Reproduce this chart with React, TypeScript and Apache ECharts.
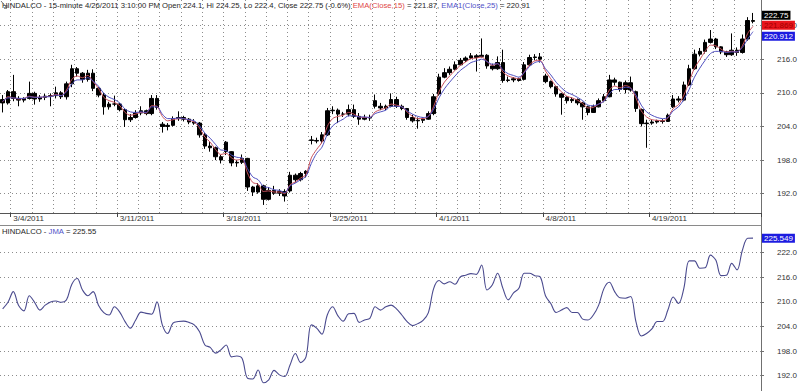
import { useEffect, useRef } from 'react';
import * as echarts from 'echarts';

// ---------- data ----------
const tradingDays = [
  '3/3/2011', '3/4/2011', '3/7/2011', '3/8/2011', '3/9/2011', '3/10/2011', '3/11/2011',
  '3/14/2011', '3/15/2011', '3/16/2011', '3/17/2011', '3/18/2011',
  '3/21/2011', '3/22/2011', '3/23/2011', '3/24/2011', '3/25/2011',
  '3/28/2011', '3/29/2011', '3/30/2011', '3/31/2011', '4/1/2011',
  '4/4/2011', '4/5/2011', '4/6/2011', '4/7/2011', '4/8/2011',
  '4/11/2011', '4/13/2011', '4/15/2011',
  '4/18/2011', '4/19/2011', '4/20/2011', '4/21/2011',
  '4/25/2011', '4/26/2011',
];
const barSlots = ['09:15', '10:50', '12:25', '14:00'];
const firstDaySlotCount = 2;

const opens = [
  208.8, 208.2, 210.2, 209.0, 208.7, 209.0, 209.9, 208.9, 209.2, 209.4,
  209.5, 210.0, 209.3, 211.6, 214.3, 213.5, 212.4, 213.5, 210.8, 209.6,
  207.5, 208.0, 208.0, 207.0, 205.2, 205.6, 206.4, 206.8, 206.3, 209.0,
  204.4, 204.0, 204.2, 205.4, 205.6, 205.3, 204.8, 204.6, 202.5, 200.5,
  200.2, 198.6, 201.2, 199.5, 197.5, 197.6, 198.3, 193.2, 192.3, 193.4,
  191.0, 192.6, 192.1, 192.4, 192.5, 195.3, 194.5, 195.6, 201.6, 201.5,
  201.4, 202.5, 206.8, 206.9, 206.2, 206.2, 207.0, 205.8, 205.3, 205.6,
  208.6, 207.6, 207.3, 207.6, 208.8, 207.6, 207.2, 205.6, 205.0, 205.1,
  205.3, 206.3, 209.8, 212.8, 213.6, 214.2, 215.0, 215.8, 216.2, 216.6,
  216.5, 216.7, 214.8, 214.3, 215.4, 212.2, 212.3, 212.5, 212.4, 215.0,
  216.3, 216.4, 213.0, 212.0, 211.1, 209.8, 209.2, 208.6, 208.8, 208.2,
  207.5, 206.5, 207.5, 208.6, 209.3, 212.3, 211.9, 210.6, 211.8, 210.2,
  207.0, 204.5, 204.6, 204.8, 205.0, 204.9, 207.5, 208.9, 208.7, 211.4,
  214.3, 216.9, 217.4, 219.0, 219.6, 218.2, 217.3, 216.8, 217.6, 217.2,
  219.6, 222.9,
];
const highs = [
  209.6, 210.5, 213.2, 209.4, 209.2, 212.0, 210.2, 209.6, 209.8, 209.9,
  211.1, 210.3, 212.0, 215.0, 214.6, 213.7, 214.1, 214.2, 211.0, 210.0,
  208.4, 209.5, 208.2, 207.2, 206.2, 206.9, 207.6, 207.0, 209.6, 209.6,
  204.8, 204.6, 205.8, 206.7, 205.9, 205.5, 205.3, 204.8, 202.8, 201.2,
  200.4, 198.9, 201.4, 199.6, 198.0, 199.0, 198.4, 193.4, 193.9, 193.6,
  193.2, 193.4, 192.8, 192.8, 195.9, 195.6, 195.9, 196.2, 202.3, 202.0,
  203.0, 207.3, 207.6, 207.2, 206.6, 207.9, 207.9, 206.4, 206.1, 206.1,
  209.7, 208.2, 207.9, 209.9, 209.3, 207.9, 207.3, 206.1, 205.6, 205.6,
  206.7, 209.8, 213.4, 214.4, 214.7, 215.6, 216.2, 216.5, 217.1, 216.9,
  219.7, 216.9, 215.2, 216.5, 217.7, 212.9, 212.8, 212.7, 215.5, 216.8,
  216.9, 217.1, 213.4, 212.2, 211.2, 210.0, 209.4, 209.2, 209.0, 208.4,
  207.7, 207.9, 209.0, 209.8, 213.2, 212.7, 212.0, 212.2, 212.9, 210.4,
  207.2, 205.2, 205.2, 205.2, 205.3, 206.3, 209.6, 209.4, 212.0, 215.0,
  217.7, 218.0, 219.5, 221.2, 219.8, 218.3, 217.5, 220.6, 218.1, 220.4,
  223.5, 224.25,
];
const lows = [
  206.5, 207.9, 208.5, 207.6, 208.3, 208.8, 207.9, 208.4, 208.7, 207.6,
  209.0, 208.9, 208.8, 211.0, 212.9, 211.8, 212.0, 210.3, 209.2, 206.1,
  207.0, 207.6, 206.7, 203.9, 204.8, 205.4, 206.0, 206.0, 206.0, 207.0,
  202.9, 203.3, 204.0, 205.0, 204.9, 204.4, 204.3, 202.0, 200.0, 199.5,
  198.0, 197.4, 198.9, 196.9, 196.8, 197.3, 192.5, 191.6, 192.0, 190.0,
  190.8, 191.8, 191.6, 190.6, 192.2, 194.0, 194.2, 194.9, 200.8, 201.0,
  201.0, 202.3, 206.2, 204.6, 205.7, 205.8, 205.5, 204.3, 205.1, 205.0,
  207.2, 206.9, 206.9, 207.4, 207.3, 206.9, 205.2, 204.7, 203.6, 204.6,
  205.2, 206.0, 209.5, 212.6, 213.2, 214.0, 214.9, 215.5, 216.0, 213.8,
  216.3, 214.3, 214.0, 214.1, 211.8, 211.9, 211.9, 212.0, 212.2, 214.8,
  215.8, 215.4, 211.7, 210.8, 209.3, 206.1, 208.1, 208.2, 207.8, 205.2,
  206.0, 206.4, 207.4, 208.3, 209.2, 211.3, 210.2, 209.9, 210.2, 206.6,
  204.0, 200.2, 204.3, 204.5, 204.5, 204.8, 207.3, 208.3, 208.5, 211.2,
  214.1, 216.5, 217.0, 218.8, 217.8, 216.9, 216.4, 216.6, 216.6, 217.0,
  219.3, 222.4,
];
const closes = [
  208.2, 210.2, 209.0, 208.7, 209.0, 209.9, 208.9, 209.2, 209.4, 209.5,
  210.0, 209.3, 211.6, 214.3, 213.5, 212.4, 213.5, 210.8, 209.6, 207.5,
  208.0, 208.0, 207.0, 205.2, 205.6, 206.4, 206.8, 206.3, 209.0, 207.4,
  204.0, 204.2, 205.4, 205.6, 205.3, 204.8, 204.6, 202.5, 200.5, 200.2,
  198.6, 198.0, 199.5, 197.5, 197.6, 198.3, 193.2, 192.3, 193.4, 191.0,
  192.6, 192.1, 192.4, 191.6, 195.3, 194.5, 195.6, 196.0, 201.5, 201.4,
  202.5, 206.8, 206.9, 206.2, 206.2, 207.0, 205.8, 205.3, 205.6, 205.5,
  207.6, 207.3, 207.6, 208.8, 207.6, 207.2, 205.6, 205.0, 205.1, 205.3,
  206.3, 209.3, 212.8, 213.6, 214.2, 215.0, 215.8, 216.2, 216.6, 216.3,
  216.7, 214.8, 214.3, 215.4, 212.2, 212.3, 212.5, 212.2, 215.0, 216.3,
  216.4, 216.0, 212.0, 211.1, 209.8, 209.2, 208.6, 208.8, 208.2, 207.5,
  206.5, 207.5, 208.6, 209.3, 212.3, 211.9, 210.6, 211.8, 210.5, 207.2,
  204.5, 204.6, 204.8, 205.0, 204.9, 206.0, 208.9, 208.7, 211.4, 214.3,
  216.9, 217.4, 219.0, 219.6, 218.2, 217.3, 216.8, 217.6, 217.2, 219.6,
  222.9, 222.75,
];
const ema15 = [
  208.4, 209.3, 209.1, 208.9, 209.0, 209.4, 209.2, 209.2, 209.3, 209.4,
  209.7, 209.5, 210.5, 212.4, 213.0, 212.7, 213.1, 212.0, 210.8, 209.2,
  208.6, 208.3, 207.7, 206.5, 206.0, 206.2, 206.5, 206.4, 207.7, 207.6,
  205.8, 205.0, 205.2, 205.4, 205.4, 205.1, 204.8, 203.7, 202.1, 201.2,
  199.9, 199.0, 199.2, 198.4, 198.0, 198.2, 195.7, 194.0, 193.7, 192.4,
  192.5, 192.3, 192.3, 192.0, 193.6, 194.1, 194.8, 195.4, 198.4, 199.9,
  201.2, 204.0, 205.4, 205.8, 206.0, 206.5, 206.2, 205.7, 205.6, 205.6,
  206.6, 207.0, 207.3, 208.0, 207.8, 207.5, 206.6, 205.8, 205.4, 205.4,
  205.8, 207.6, 210.2, 211.9, 213.0, 214.0, 214.9, 215.5, 216.1, 216.2,
  216.4, 215.6, 214.9, 215.2, 213.7, 213.0, 212.7, 212.5, 213.7, 215.0,
  215.7, 215.8, 213.9, 212.5, 211.1, 210.2, 209.4, 209.1, 208.7, 208.1,
  207.3, 207.4, 208.0, 208.6, 210.5, 211.2, 210.9, 211.3, 210.9, 209.1,
  206.8, 205.7, 205.2, 205.1, 205.0, 205.5, 207.2, 207.9, 209.6, 212.0,
  214.4, 215.9, 217.4, 218.5, 218.4, 217.8, 217.3, 217.4, 217.3, 218.4,
  220.6, 221.869,
];
const ema25 = [
  208.5, 209.1, 209.1, 209.0, 209.0, 209.3, 209.2, 209.2, 209.3, 209.3,
  209.6, 209.5, 210.2, 211.6, 212.3, 212.3, 212.7, 212.1, 211.2, 209.9,
  209.2, 208.8, 208.2, 207.1, 206.6, 206.5, 206.6, 206.5, 207.5, 207.5,
  206.2, 205.4, 205.4, 205.5, 205.4, 205.2, 205.0, 204.1, 202.8, 201.9,
  200.8, 199.8, 199.7, 198.9, 198.5, 198.4, 196.5, 195.0, 194.5, 193.3,
  193.1, 192.7, 192.6, 192.2, 193.4, 193.9, 194.5, 195.1, 197.4, 199.2,
  200.3, 202.6, 204.1, 204.8, 205.3, 205.9, 205.9, 205.7, 205.7, 205.6,
  206.3, 206.6, 206.9, 207.6, 207.6, 207.5, 206.8, 206.2, 205.8, 205.6,
  205.8, 207.1, 209.1, 210.7, 211.9, 213.0, 214.0, 214.7, 215.4, 215.7,
  216.0, 215.6, 215.1, 215.2, 214.1, 213.4, 213.1, 212.8, 213.6, 214.7,
  215.4, 215.6, 214.3, 213.2, 211.9, 210.9, 210.1, 209.7, 209.2, 208.6,
  207.8, 207.7, 208.0, 208.5, 209.8, 210.6, 210.6, 211.0, 210.8, 209.6,
  207.8, 206.6, 206.0, 205.6, 205.4, 205.6, 206.8, 207.5, 208.8, 210.6,
  212.8, 214.4, 215.8, 217.0, 217.4, 217.4, 217.2, 217.3, 217.3, 218.1,
  219.6, 220.912,
];
const jma = [
  208.3, 209.9, 212.5, 209.1, 207.8, 211.5, 209.9, 208.0, 209.2, 210.0,
  210.2, 209.9, 210.5, 214.3, 215.7, 212.9, 211.5, 212.5, 209.2, 207.4,
  206.8, 208.8, 207.5, 205.2, 203.6, 205.6, 207.5, 207.2, 207.0, 210.0,
  204.4, 202.3, 204.8, 205.2, 205.3, 205.0, 204.4, 202.7, 199.5, 198.9,
  197.5, 198.3, 199.5, 196.6, 196.8, 196.2, 191.4, 191.2, 193.4, 190.3,
  191.0, 193.3, 192.2, 191.8, 194.6, 197.4, 195.2, 196.6, 204.4, 203.6,
  202.1, 206.8, 208.8, 206.6, 205.3, 207.1, 207.2, 205.0, 205.6, 206.0,
  208.8, 208.0, 208.8, 209.2, 208.3, 206.8, 205.2, 204.2, 204.7, 205.5,
  207.4, 213.3, 215.2, 214.4, 214.9, 214.3, 216.1, 216.5, 216.9, 216.7,
  219.0, 212.9, 214.1, 217.0, 213.3, 210.5, 212.2, 213.3, 217.0, 217.0,
  216.4, 216.1, 211.5, 209.6, 207.4, 208.0, 208.6, 207.4, 207.4, 205.8,
  205.6, 206.8, 209.2, 213.3, 214.8, 212.5, 211.0, 210.9, 211.3, 205.2,
  201.7, 202.3, 203.4, 205.2, 205.2, 208.0, 211.2, 209.6, 213.3, 220.0,
  220.0, 218.2, 218.3, 221.4, 220.2, 216.4, 216.5, 219.4, 217.8, 222.6,
  225.5, 225.549,
];
const lastBarOHLC = [224.1, 224.25, 222.4, 222.75];
const lastChangePct = [-0.6];
const priceTicks = [192, 198, 204, 210, 216, 222];
const jmaTicks = [192, 198, 204, 210, 216, 222];
const priceRange = [188.56, 226.56];
const jmaRange = [188.27, 228.75];
const daysPerWeekLabel = 5;

// ---------- layout / style ----------
const W = 800;
const H = 391;
const PLOT_RIGHT = 761;
const TOP_GRID = { top: 0, height: 213 };
const BOT_GRID = { top: 225, height: 166 };
const FONT = 'Liberation Sans, Arial, sans-serif';
const DOTTED = { type: [1, 3] as number[], color: '#8c8c8c', width: 1 };
const AXIS_GRAY = '#707070';
const HEAD_SIZE = 7.7;

// categories: one entry per bar, plus one blank slot at the right edge
const categories: string[] = [];
const dayStart: boolean[] = [];
const weekStart: boolean[] = [];
tradingDays.forEach((d, di) => {
  const slots = di === 0 ? barSlots.slice(barSlots.length - firstDaySlotCount) : barSlots;
  slots.forEach((s, si) => {
    categories.push(d + ' ' + s);
    const isStart = di > 0 && si === 0;
    dayStart.push(isStart);
    weekStart.push(isStart && (di - 1) % daysPerWeekLabel === 0);
  });
});
categories.push('');
dayStart.push(false);
weekStart.push(false);

const fmt = (v: number, d: number) => v.toFixed(d);

export default function App() {
  const ref = useRef<HTMLDivElement>(null);

  useEffect(() => {
    if (!ref.current) return;
    const chart = echarts.init(ref.current, null, { renderer: 'svg', width: W, height: H });
    const lastIdx = closes.length - 1;
    const e15 = ema15[lastIdx];
    const e25 = ema25[lastIdx];
    const jLast = jma[jma.length - 1];

    const headerTop =
      '{k|HINDALCO - 15-minute ' + categories[lastIdx].split(' ')[0] + ' 3:10:00 PM Open ' +
      lastBarOHLC[0] + ', Hi ' + lastBarOHLC[1] + ', Lo ' + lastBarOHLC[2] + ', Close ' +
      lastBarOHLC[3] + ' (' + lastChangePct[0] + '%) }{r|EMA(Close,15)}{k| = ' + fmt(e15, 2) +
      ', }{b|EMA1(Close,25)}{k| = ' + fmt(e25, 2) + '}';
    const headerBot = '{k|HINDALCO - }{b|JMA}{k| = ' + fmt(jLast, 2) + '}';

    const tok = (color: string) => ({
      color,
      fontSize: HEAD_SIZE,
      fontWeight: 'normal' as const,
      fontFamily: FONT,
    });
    const richBase = { k: tok('#262626'), r: tok('#e04848'), b: tok('#5050c8') };
    const titleStyle = {
      fontSize: HEAD_SIZE,
      fontWeight: 'normal' as const,
      fontFamily: FONT,
      rich: richBase,
    };

    const yAxisCommon = (ticks: number[]) => ({
      type: 'value' as const,
      position: 'right' as const,
      axisLine: { show: true, lineStyle: { color: AXIS_GRAY, width: 1 } },
      axisTick: { show: true, length: 3, customValues: ticks, lineStyle: { color: AXIS_GRAY } },
      axisLabel: {
        customValues: ticks,
        formatter: (v: number) => v.toFixed(1),
        align: 'right' as const,
        margin: 36,
        fontSize: 8,
        color: '#333',
        fontFamily: FONT,
      },
      splitLine: { show: true, lineStyle: DOTTED },
    });

    chart.setOption({
      animation: false,
      backgroundColor: '#ffffff',
      textStyle: { fontFamily: FONT },
      title: [
        { text: headerTop, left: 2, top: 1, padding: 0, textStyle: titleStyle },
        { text: headerBot, left: 2, top: 227, padding: 0, textStyle: titleStyle },
      ],
      grid: [
        { left: 0, width: PLOT_RIGHT, top: TOP_GRID.top, height: TOP_GRID.height },
        { left: 0, width: PLOT_RIGHT, top: BOT_GRID.top, height: BOT_GRID.height },
      ],
      xAxis: [
        {
          type: 'category',
          gridIndex: 0,
          data: categories,
          boundaryGap: true,
          position: 'bottom',
          axisLine: { show: true, lineStyle: { color: '#555', width: 1 } },
          axisTick: {
            show: true,
            length: 4,
            interval: (i: number) => weekStart[i],
            lineStyle: { color: '#444' },
          },
          axisLabel: {
            show: true,
            interval: (i: number) => weekStart[i],
            formatter: (v: string) => v.split(' ')[0],
            align: 'left',
            margin: 1,
            fontSize: 8,
            color: '#333',
            fontFamily: FONT,
          },
          splitLine: { show: true, interval: (i: number) => dayStart[i], lineStyle: DOTTED },
        },
        {
          type: 'category',
          gridIndex: 1,
          data: categories,
          boundaryGap: true,
          position: 'top',
          axisLine: { show: true, lineStyle: { color: '#8a8a8a', width: 1 } },
          axisTick: { show: false },
          axisLabel: { show: false },
          splitLine: { show: false },
        },
      ],
      yAxis: [
        { gridIndex: 0, min: priceRange[0], max: priceRange[1], ...yAxisCommon(priceTicks) },
        { gridIndex: 1, min: jmaRange[0], max: jmaRange[1], ...yAxisCommon(jmaTicks) },
      ],
      series: [
        {
          name: 'HINDALCO',
          type: 'candlestick',
          xAxisIndex: 0,
          yAxisIndex: 0,
          data: opens.map((o, i) => [o, closes[i], lows[i], highs[i]]),
          barWidth: 4,
          itemStyle: {
            color: '#000',
            color0: '#000',
            borderColor: '#000',
            borderColor0: '#000',
            borderWidth: 1,
          },
        },
        {
          name: 'EMA(Close,15)',
          type: 'line',
          xAxisIndex: 0,
          yAxisIndex: 0,
          data: ema15,
          showSymbol: false,
          smooth: 0.3,
          lineStyle: { color: '#c8505c', width: 1 },
          z: 3,
        },
        {
          name: 'EMA1(Close,25)',
          type: 'line',
          xAxisIndex: 0,
          yAxisIndex: 0,
          data: ema25,
          showSymbol: false,
          smooth: 0.3,
          lineStyle: { color: '#5050c0', width: 1 },
          z: 3,
        },
        {
          name: 'JMA',
          type: 'line',
          xAxisIndex: 1,
          yAxisIndex: 1,
          data: jma,
          showSymbol: false,
          smooth: 0.35,
          lineStyle: { color: '#4a4a8e', width: 1.1 },
        },
      ],
    });

    // value tags on the right axis, positioned through the axis scales
    const yTop = (v: number) => chart.convertToPixel({ yAxisIndex: 0 }, v) as number;
    const yBot = (v: number) => chart.convertToPixel({ yAxisIndex: 1 }, v) as number;
    const redY = yTop(e15) - 1;
    const tag = (text: string, cy: number, bg: string, fg: string) => ({
      type: 'text',
      x: PLOT_RIGHT + 1,
      y: cy,
      z: 50,
      style: {
        text,
        fill: fg,
        backgroundColor: bg,
        padding: [1, 2, 0, 2],
        font: '8px ' + FONT,
        verticalAlign: 'middle',
        align: 'left',
      },
    });
    chart.setOption({
      graphic: [
        {
          type: 'line',
          shape: {
            x1: PLOT_RIGHT + 0.5,
            y1: TOP_GRID.top + TOP_GRID.height,
            x2: PLOT_RIGHT + 0.5,
            y2: BOT_GRID.top,
          },
          style: { stroke: AXIS_GRAY, lineWidth: 1 },
        },
        {
          type: 'polyline',
          shape: { points: [[1, 1], [7, 8], [4, 8], [7, 8], [7, 5]] },
          style: { stroke: '#555', lineWidth: 0.8, fill: 'none' },
          z: 40,
        },
        tag(fmt(closes[lastIdx], 2), redY - 10, '#000', '#fff'),
        tag(fmt(e15, 3), redY, '#e8141c', '#a00000'),
        tag(fmt(e25, 3), redY + 11, '#1c1ce0', '#fff'),
        tag(fmt(jLast, 3), yBot(jLast), '#1c1ce0', '#fff'),
      ],
    });

    return () => chart.dispose();
  }, []);

  return (
    <div
      ref={ref}
      style={{ position: 'fixed', left: 0, top: 0, width: W, height: H, background: '#fff' }}
    />
  );
}
